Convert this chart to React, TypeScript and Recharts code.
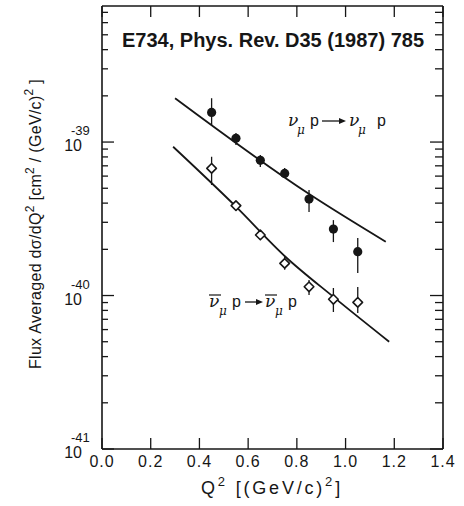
import React from 'react';
import { ComposedChart, XAxis, YAxis, Scatter, Line, ErrorBar } from 'recharts';

// Q^2 bins [(GeV/c)^2]
const q2 = [0.45, 0.55, 0.65, 0.75, 0.85, 0.95, 1.05];

// nu_mu p -> nu_mu p (filled points), cm^2/(GeV/c)^2
const nuVal = [1.56e-39, 1.057e-39, 7.6e-40, 6.25e-40, 4.25e-40, 2.71e-40, 1.93e-40];
const nuLo = [1.29e-39, 9.56e-40, 6.87e-40, 5.83e-40, 3.5e-40, 2.23e-40, 1.4e-40];
const nuHi = [1.93e-39, 1.144e-39, 8.23e-40, 6.77e-40, 4.87e-40, 3.1e-40, 2.37e-40];

// anti-nu_mu p -> anti-nu_mu p (open points)
const nubVal = [6.74e-40, 3.85e-40, 2.48e-40, 1.62e-40, 1.14e-40, 9.45e-41, 9.03e-41];
const nubLo = [5.25e-40, 3.61e-40, 2.33e-40, 1.47e-40, 1.008e-40, 7.81e-41, 7.69e-41];
const nubHi = [8.02e-40, 4.06e-40, 2.59e-40, 1.78e-40, 1.26e-40, 1.12e-40, 1.136e-40];

// fitted curves
const nuFitQ2 = [0.3, 0.849, 1.165];
const nuFit = [1.93e-39, 4.6e-40, 2.24e-40];
const nubFitQ2 = [0.292, 0.546, 0.753, 0.95, 1.179];
const nubFit = [9.32e-40, 3.85e-40, 1.79e-40, 9.8e-41, 5.0e-41];

const xTicks = [0, 0.2, 0.4, 0.6, 0.8, 1.0, 1.2, 1.4];
const decades = [-41, -40, -39];
const mantissas = [1, 2, 3, 4, 5, 6, 7, 8, 9];
const yMin = 1e-41;
const yMax = 7.7e-39;

const yTicks: number[] = [];
decades.forEach((d) => {
  mantissas.forEach((m) => {
    const v = m * Math.pow(10, d);
    if (v <= yMax) yTicks.push(v);
  });
});

const pointData = (vals: number[], lo: number[], hi: number[]) =>
  q2.map((q, i) => ({ q2: q, v: vals[i], err: [vals[i] - lo[i], hi[i] - vals[i]] }));

const nuData = pointData(nuVal, nuLo, nuHi);
const nubData = pointData(nubVal, nubLo, nubHi);
const nuFitData = nuFitQ2.map((q, i) => ({ q2: q, v: nuFit[i] }));
const nubFitData = nubFitQ2.map((q, i) => ({ q2: q, v: nubFit[i] }));

const INK = '#161616';
const SANS = '"Liberation Sans", Arial, sans-serif';
const SERIF = '"DejaVu Serif", serif';

const decadeOf = (v: number) => {
  const l = Math.log10(v);
  return Math.abs(l - Math.round(l)) < 1e-6 ? Math.round(l) : null;
};

const LeftTick = (props: any) => {
  const { x, y, payload } = props;
  const d = decadeOf(payload.value);
  const len = d !== null ? 12 : 6;
  return (
    <g>
      <line x1={x} x2={x + len} y1={y} y2={y} stroke={INK} strokeWidth={1.3} />
      {d !== null && (
        <g fontFamily={SANS} fill={INK}>
          <text x={x - 20} y={y + 9} textAnchor="end" fontSize={16}>10</text>
          <text x={x - 31} y={y - 7} textAnchor="start" fontSize={13}>{`-${Math.abs(d)}`}</text>
        </g>
      )}
    </g>
  );
};

const RightTick = (props: any) => {
  const { x, y, payload } = props;
  const d = decadeOf(payload.value);
  const len = d !== null ? 13 : 8;
  return <line x1={x} x2={x - len} y1={y} y2={y} stroke={INK} strokeWidth={1.3} />;
};

const BottomTick = (props: any) => {
  const { x, y, payload } = props;
  return (
    <g>
      <line x1={x} x2={x} y1={y} y2={y - 11} stroke={INK} strokeWidth={1.3} />
      <text x={x} y={y + 18} textAnchor="middle" fontSize={16} fontFamily={SANS} fill={INK} letterSpacing={1}>
        {Number(payload.value).toFixed(1)}
      </text>
    </g>
  );
};

const TopTick = (props: any) => {
  const { x, y } = props;
  return <line x1={x} x2={x} y1={y} y2={y + 11} stroke={INK} strokeWidth={1.3} />;
};

const FilledDot = (props: any) => {
  const { cx, cy } = props;
  return <circle cx={cx} cy={cy} r={4.6} fill={INK} />;
};

const OpenDiamond = (props: any) => {
  const { cx, cy } = props;
  const s = 4.8;
  return (
    <path
      d={`M${cx},${cy - s} L${cx + s},${cy} L${cx},${cy + s} L${cx - s},${cy} Z`}
      fill="#fff"
      stroke={INK}
      strokeWidth={1.6}
      strokeLinejoin="round"
    />
  );
};

const axisLine = { stroke: INK, strokeWidth: 1.6 };

export default function App() {
  return (
    <div style={{ position: 'absolute', left: 0, top: 0, width: 464, height: 506, background: '#fff' }}>
      <ComposedChart
        width={464}
        height={506}
        margin={{ top: 5, right: 20, bottom: 27, left: 42 }}
      >
        <XAxis
          dataKey="q2"
          type="number"
          domain={[0, 1.4]}
          allowDataOverflow
          ticks={xTicks}
          interval={0}
          height={30}
          tickSize={0}
          tickMargin={0}
          tickLine={false}
          axisLine={axisLine}
          tick={<BottomTick />}
        />
        <XAxis
          xAxisId="top"
          orientation="top"
          dataKey="q2"
          type="number"
          domain={[0, 1.4]}
          allowDataOverflow
          ticks={xTicks}
          interval={0}
          height={1}
          tickSize={0}
          tickMargin={0}
          tickLine={false}
          axisLine={axisLine}
          tick={<TopTick />}
        />
        <YAxis
          type="number"
          scale="log"
          domain={[yMin, yMax]}
          allowDataOverflow
          ticks={yTicks}
          interval={0}
          width={60}
          tickSize={0}
          tickMargin={0}
          tickLine={false}
          axisLine={axisLine}
          tick={<LeftTick />}
        />
        <YAxis
          yAxisId="right"
          orientation="right"
          type="number"
          scale="log"
          domain={[yMin, yMax]}
          allowDataOverflow
          ticks={yTicks}
          interval={0}
          width={1}
          tickSize={0}
          tickMargin={0}
          tickLine={false}
          axisLine={axisLine}
          tick={<RightTick />}
        />
        <Line
          data={nuFitData}
          dataKey="v"
          type="monotone"
          dot={false}
          stroke={INK}
          strokeWidth={1.8}
          isAnimationActive={false}
        />
        <Line
          data={nubFitData}
          dataKey="v"
          type="monotone"
          dot={false}
          stroke={INK}
          strokeWidth={1.8}
          isAnimationActive={false}
        />
        <Scatter data={nuData} dataKey="v" shape={FilledDot} isAnimationActive={false}>
          <ErrorBar dataKey="err" direction="y" width={0} stroke={INK} strokeWidth={1.3} isAnimationActive={false} />
        </Scatter>
        <Scatter data={nubData} dataKey="v" shape={OpenDiamond} isAnimationActive={false}>
          <ErrorBar dataKey="err" direction="y" width={0} stroke={INK} strokeWidth={1.3} isAnimationActive={false} />
        </Scatter>
      </ComposedChart>

      <svg
        width={464}
        height={506}
        style={{ position: 'absolute', left: 0, top: 0, pointerEvents: 'none' }}
      >
        <text x={273} y={47} textAnchor="middle" fontFamily={SANS} fontWeight="bold" fontSize={20} fill={INK}>
          E734, Phys. Rev. D35 (1987) 785
        </text>

        {/* nu_mu p -> nu_mu p */}
        <g fill={INK}>
          <text x={288} y={126} fontFamily={SERIF} fontStyle="italic" fontSize={17}>ν</text>
          <text x={297} y={134} fontFamily={SERIF} fontStyle="italic" fontSize={12}>μ</text>
          <text x={310} y={126} fontFamily={SANS} fontSize={16}>p</text>
          <text x={349} y={126} fontFamily={SERIF} fontStyle="italic" fontSize={17}>ν</text>
          <text x={358} y={134} fontFamily={SERIF} fontStyle="italic" fontSize={12}>μ</text>
          <text x={377} y={126} fontFamily={SANS} fontSize={16}>p</text>
        </g>
        <line x1={322} x2={340} y1={121} y2={121} stroke={INK} strokeWidth={1.3} />
        <path d="M346,121 L339,118 L339,124 Z" fill={INK} />

        {/* anti-nu_mu p -> anti-nu_mu p */}
        <g fill={INK}>
          <text x={209} y={307} fontFamily={SERIF} fontStyle="italic" fontSize={17}>ν</text>
          <text x={219} y={315} fontFamily={SERIF} fontStyle="italic" fontSize={12}>μ</text>
          <text x={232} y={307} fontFamily={SANS} fontSize={16}>p</text>
          <text x={265} y={307} fontFamily={SERIF} fontStyle="italic" fontSize={17}>ν</text>
          <text x={275} y={315} fontFamily={SERIF} fontStyle="italic" fontSize={12}>μ</text>
          <text x={288} y={307} fontFamily={SANS} fontSize={16}>p</text>
        </g>
        <line x1={209} x2={221} y1={295} y2={295} stroke={INK} strokeWidth={1.2} />
        <line x1={265} x2={277} y1={295} y2={295} stroke={INK} strokeWidth={1.2} />
        <line x1={245} x2={258} y1={302} y2={302} stroke={INK} strokeWidth={1.3} />
        <path d="M263,302 L256,299 L256,305 Z" fill={INK} />

        {/* y axis title */}
        <text
          transform="translate(41,224) rotate(-90)"
          textAnchor="middle"
          fontFamily={SANS}
          fontSize={16}
          fill={INK}
          letterSpacing={0.3}
        >
          <tspan>Flux  Averaged  dσ/dQ</tspan>
          <tspan dy={-7} fontSize={12}>2</tspan>
          <tspan dy={7}>  [cm</tspan>
          <tspan dy={-7} fontSize={12}>2</tspan>
          <tspan dy={7}> / (GeV/c)</tspan>
          <tspan dy={-8} fontSize={12}>2</tspan>
          <tspan dy={8}> ]</tspan>
        </text>

        {/* x axis title */}
        <text x={272} y={494} textAnchor="middle" fontFamily={SANS} fontSize={18} fill={INK} letterSpacing={2.8}>
          <tspan>Q</tspan>
          <tspan dy={-8} fontSize={13}>2</tspan>
          <tspan dy={8}> [(GeV/c)</tspan>
          <tspan dy={-8} fontSize={13}>2</tspan>
          <tspan dy={8}>]</tspan>
        </text>
      </svg>
    </div>
  );
}
